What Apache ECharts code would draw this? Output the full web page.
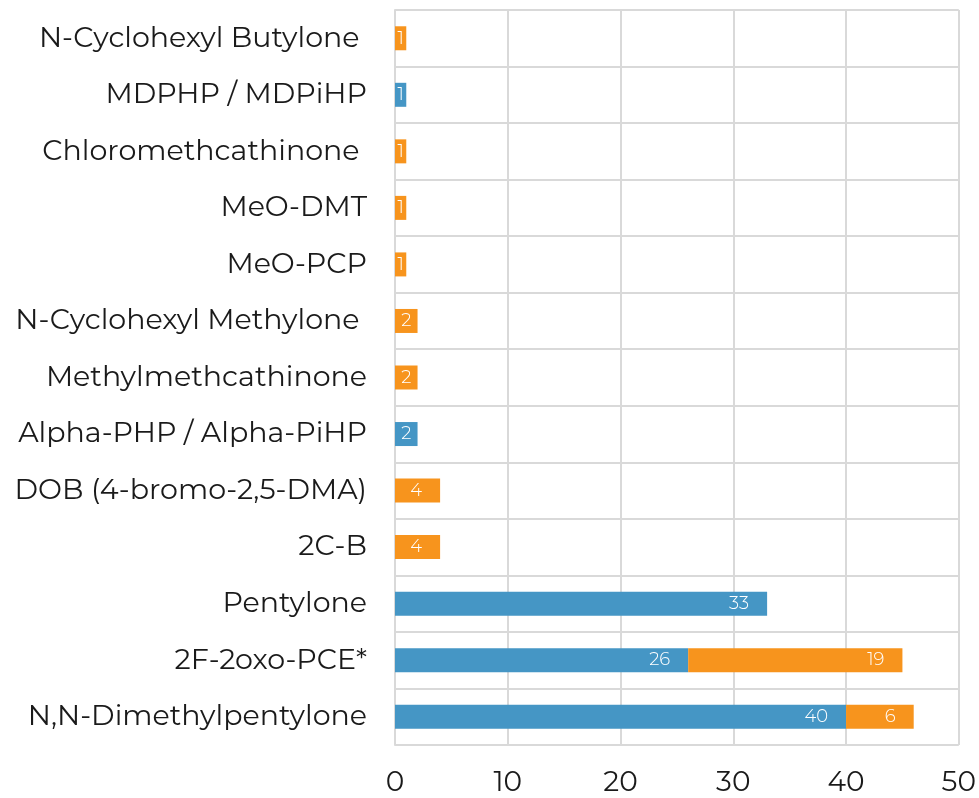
<!DOCTYPE html>
<html><head><meta charset="utf-8">
<script src="https://cdn.jsdelivr.net/npm/echarts@6/dist/echarts.min.js"></script>
<style>html,body{margin:0;padding:0;background:#fff}#c{width:979px;height:798px}</style>
</head><body><div id="c"></div>
<script>
const categories = ["N,N-Dimethylpentylone","2F-2oxo-PCE*","Pentylone","2C-B","DOB (4-bromo-2,5-DMA)","Alpha-PHP / Alpha-PiHP","Methylmethcathinone","N-Cyclohexyl Methylone ","MeO-PCP","MeO-DMT","Chloromethcathinone ","MDPHP / MDPiHP","N-Cyclohexyl Butylone "];
const blueValues = [40,26,33,null,null,2,null,null,null,null,null,1,null];
const orangeValues = [6,19,null,4,4,null,2,2,1,1,1,null,1];
const xTicks = [0,10,20,30,40,50];

const font = 'Montserrat, "DejaVu Sans", sans-serif';
function withLabels(vals){
  return vals.map(v => {
    if (v == null) return null;
    const big = v >= 4;
    return {value:v, label:{show:true, position: big ? 'insideRight' : 'inside', distance: big ? 18 : 5}};
  });
}
const chart = echarts.init(document.getElementById('c'), null, {renderer:'canvas'});
const lbl = {show:true, color:'#fff', fontSize:18, fontFamily:font, fontWeight:300};
chart.setOption({
  animation:false,
  grid:{left:395, right:19, top:10, bottom:53, containLabel:false},
  xAxis:{type:'value', min:xTicks[0], max:xTicks[xTicks.length-1], interval:10,
    axisLine:{show:false}, axisTick:{show:false},
    axisLabel:{color:'#1a1a1a', fontSize:28, fontFamily:font, fontWeight:400, margin:24},
    splitLine:{show:true, lineStyle:{color:'#d9d9d9', width:2}}},
  yAxis:{type:'category', data:categories,
    axisLine:{show:true, lineStyle:{color:'#d9d9d9', width:2}}, axisTick:{show:false},
    axisLabel:{color:'#1a1a1a', fontSize:28.5, fontFamily:font, fontWeight:400, margin:28},
    splitLine:{show:true, lineStyle:{color:'#d9d9d9', width:2}}},
  series:[
    {type:'bar', stack:'a', data:withLabels(blueValues), barWidth:24, itemStyle:{color:'#4596C5'}, label:lbl},
    {type:'bar', stack:'a', data:withLabels(orangeValues), barWidth:24, itemStyle:{color:'#F7941D'}, label:lbl}
  ]
});
</script></body></html>
